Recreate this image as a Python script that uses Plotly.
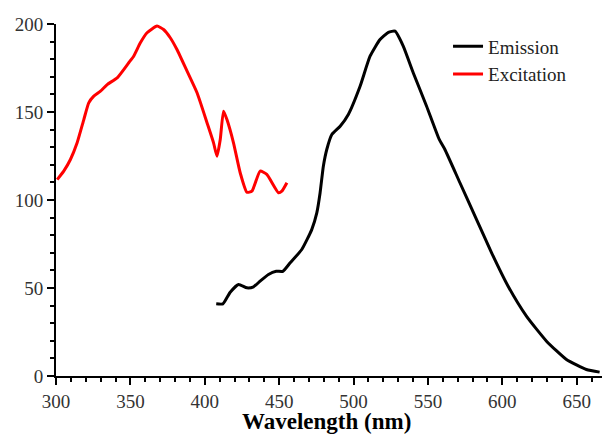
import plotly.graph_objects as go

exc_x = [300.8, 305.2, 309.7, 314.2, 318.7, 322, 325.4, 329.9, 334.4, 341.1, 348.9, 352.2, 356.7, 361.2, 367.9, 372.3, 376.8, 381.3, 388.1, 394.8, 401.5, 405.9, 408.2, 410.4, 412.6, 414.9, 419.3, 423.8, 428.3, 431.7, 437.2, 441.7, 449.5, 451.8, 455.2]
exc_y = [111.6, 116.4, 123, 132.5, 145.7, 155.2, 159, 161.8, 165.6, 169.4, 178, 181.7, 189.3, 195, 198.8, 196.9, 192.2, 185.5, 173.2, 160.9, 143.9, 132.5, 124.9, 134.4, 150.5, 145.7, 132.5, 115.5, 104.4, 105, 116.4, 114.5, 104.1, 105, 109.8]

em_x = [407.7, 412.2, 417.1, 422.7, 428.3, 432.8, 437.2, 442.8, 448, 452.5, 457.4, 465.2, 471.9, 475.3, 477.5, 479.7, 482, 485.4, 491, 496.5, 504.4, 511.1, 517.8, 523.4, 527.9, 533.4, 540.1, 549.1, 557.6, 561.4, 571.5, 582.7, 592.8, 603.9, 616.2, 629.7, 643.1, 656.5, 665.4]
em_y = [41, 41, 47.6, 52, 50.1, 50.7, 53.9, 57.7, 59.5, 59.5, 64.3, 71.9, 83.2, 92.7, 104, 119.2, 128.7, 137.2, 141.9, 148.6, 164.6, 181.7, 191.2, 195.3, 195.9, 187.4, 172.3, 153.3, 134.4, 128.7, 109.8, 88.9, 70, 51, 34, 19.8, 9.4, 3.7, 2.2]

x_ticks = [300, 350, 400, 450, 500, 550, 600, 650]
y_ticks = [0, 50, 100, 150, 200]
x_title = "Wavelength (nm)"

fig = go.Figure()
fig.add_trace(go.Scatter(x=em_x, y=em_y, mode="lines", name="Emission",
                         line=dict(color="black", width=3, shape="spline", smoothing=0.5)))
fig.add_trace(go.Scatter(x=exc_x, y=exc_y, mode="lines", name="Excitation",
                         line=dict(color="#ff0000", width=3, shape="spline", smoothing=0.5)))

font = "Liberation Serif"
tickfont = dict(family=font, size=19, color="#333")
fig.update_layout(
    width=603, height=436,
    margin=dict(l=56, r=1, t=24, b=60),
    paper_bgcolor="white", plot_bgcolor="white",
    font=dict(family=font, size=19, color="#222"),
    showlegend=True,
    legend=dict(x=0.718, y=0.99, xanchor="left", yanchor="top",
                bgcolor="rgba(0,0,0,0)", font=dict(family=font, size=19, color="#222"),
                itemwidth=30, tracegroupgap=0),
    xaxis=dict(range=[300, 667], tickvals=x_ticks, showline=True, linecolor="black", linewidth=2,
               ticks="outside", ticklen=7, tickwidth=2, tickcolor="black", automargin=False,
               tickfont=tickfont,
               minor=dict(dtick=10, tick0=300, ticks="outside", ticklen=4, tickwidth=1.5, tickcolor="black"),
               showgrid=False, zeroline=False),
    yaxis=dict(range=[0, 200], tickvals=y_ticks, showline=True, linecolor="black", linewidth=2,
               ticks="outside", ticklen=7, tickwidth=2, tickcolor="black", automargin=False,
               tickfont=tickfont,
               minor=dict(dtick=10, tick0=0, ticks="outside", ticklen=4, tickwidth=1.5, tickcolor="black"),
               showgrid=False, zeroline=False),
    annotations=[dict(text="<b>" + x_title + "</b>", xref="paper", yref="paper", x=0.495, y=-0.129,
                      xanchor="center", yanchor="middle", showarrow=False,
                      font=dict(family=font, size=23, color="black"))],
)
fig.write_html("out.html", config={"displayModeBar": False},
               post_script="document.body.style.margin='0px';")
